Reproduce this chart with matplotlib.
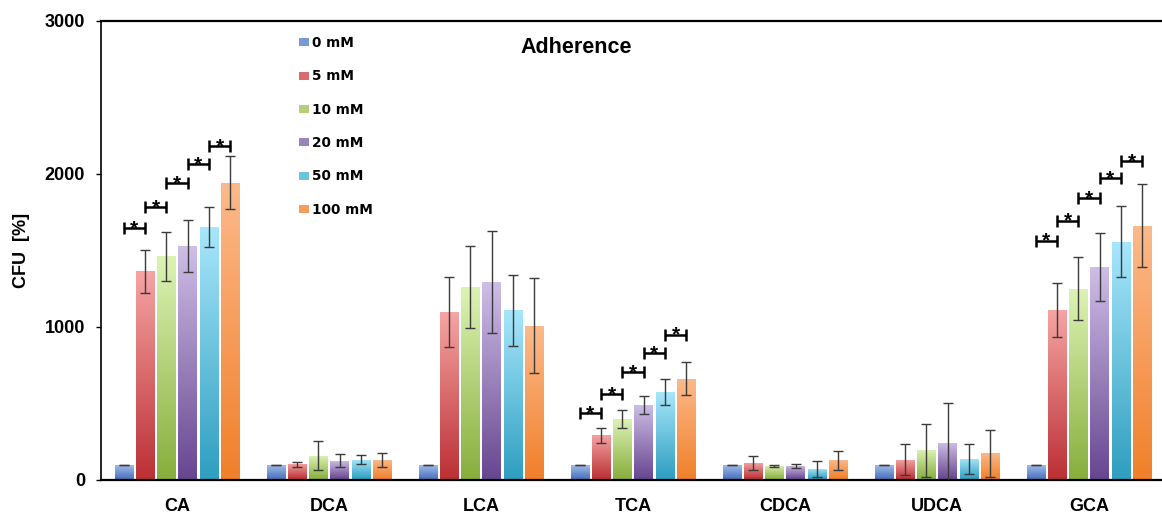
import numpy as np
import matplotlib
matplotlib.use("Agg")
import matplotlib.pyplot as plt
from matplotlib.colors import LinearSegmentedColormap, to_rgb
from matplotlib.patches import Patch

plt.rcParams["font.family"] = ["Liberation Sans", "DejaVu Sans"]

# ---- data -------------------------------------------------------------
groups = ["CA", "DCA", "LCA", "TCA", "CDCA", "UDCA", "GCA"]
concentrations = ["0 mM", "5 mM", "10 mM", "20 mM", "50 mM", "100 mM"]

cfu_0mM = [95, 95, 95, 95, 95, 95, 95]
cfu_5mM = [1360, 100, 1095, 290, 106, 129, 1108]
cfu_10mM = [1460, 155, 1258, 395, 88, 192, 1248]
cfu_20mM = [1525, 122, 1290, 487, 88, 240, 1386]
cfu_50mM = [1650, 130, 1105, 569, 68, 134, 1553]
cfu_100mM = [1940, 125, 1006, 660, 125, 171, 1660]

err_0mM = [0, 0, 0, 0, 0, 0, 0]
err_5mM = [140, 17, 228, 49, 46, 100, 175]
err_10mM = [160, 95, 265, 58, 9, 173, 205]
err_20mM = [170, 42, 333, 60, 14, 261, 222]
err_50mM = [128, 30, 230, 85, 50, 96, 232]
err_100mM = [175, 45, 313, 105, 63, 153, 270]

series = [cfu_0mM, cfu_5mM, cfu_10mM, cfu_20mM, cfu_50mM, cfu_100mM]
errors = [err_0mM, err_5mM, err_10mM, err_20mM, err_50mM, err_100mM]

# significance brackets between neighbouring concentrations (group -> bracket heights)
sig_groups = ["CA", "TCA", "GCA"]
sig_levels = {
    "CA": [1642, 1779, 1938, 2062, 2177],
    "TCA": [432, 558, 703, 827, 947],
    "GCA": [1562, 1692, 1838, 1968, 2079],
}

# ---- style ------------------------------------------------------------
# (top, bottom) colours of each bar's vertical gradient
gradients = [
    ("#a5c0f0", "#4a72b8"),
    ("#f6a5a5", "#bb3034"),
    ("#ddf3b6", "#88ae3c"),
    ("#cfbfe7", "#674690"),
    ("#a8e7fb", "#2f9ec0"),
    ("#fcba8c", "#f0802a"),
]
pitch = 0.14
bar_w = 0.122

fig = plt.figure(figsize=(11.62, 5.13), dpi=100)
ax = fig.add_axes([101 / 1162, 33.5 / 513, 1064 / 1162, 459 / 513])

x = np.arange(len(groups))
grad = np.linspace(0, 1, 256).reshape(-1, 1)

for j, (vals, errs) in enumerate(zip(series, errors)):
    xpos = x + (j - 2.5) * pitch
    top, bottom = gradients[j]
    cmap = LinearSegmentedColormap.from_list(f"g{j}", [bottom, top])
    bars = ax.bar(xpos, vals, width=bar_w, facecolor="none", linewidth=0, zorder=2)
    for b in bars:
        x0, w, h = b.get_x(), b.get_width(), b.get_height()
        im = ax.imshow(grad, extent=(x0, x0 + w, 0, h), origin="lower",
                       cmap=cmap, aspect="auto", interpolation="bilinear", zorder=2)
        im.set_clip_path(b)
    ax.errorbar(xpos, vals, yerr=errs, fmt="none", ecolor="#3a3a3a",
                elinewidth=1.0, capsize=3.6, capthick=1.0, zorder=3)

# significance brackets with asterisks
for g in sig_groups:
    gi = groups.index(g)
    for k, lvl in enumerate(sig_levels[g]):
        xa = gi + (k - 2.5) * pitch
        xb = gi + (k + 1 - 2.5) * pitch
        ax.plot([xa, xb], [lvl, lvl], color="black", lw=1.8, marker="|",
                markersize=8, markeredgewidth=1.8, zorder=4, solid_capstyle="butt")
        ax.annotate("*", xy=((xa + xb) / 2, lvl), xytext=(0, -4.5),
                    textcoords="offset points", ha="center", va="baseline",
                    fontsize=15, fontweight="bold", zorder=4)

ax.set_xlim(-0.5, len(groups) - 0.5)
ax.set_ylim(0, 3000)
ax.set_yticks([0, 1000, 2000, 3000])
ax.set_xticks(x)
ax.set_xticklabels(groups, fontsize=13, fontweight="bold")
for lab in ax.get_yticklabels():
    lab.set_fontsize(13)
    lab.set_fontweight("bold")
ax.tick_params(axis="x", length=0, pad=13)
ax.tick_params(axis="y", direction="out", length=3.6, width=1.0, pad=8)

for side in ("top", "bottom"):
    ax.spines[side].set_linewidth(1.6)
ax.spines["left"].set_linewidth(1.2)
ax.spines["right"].set_visible(False)

ax.set_ylabel("CFU  [%]", fontsize=13, fontweight="bold")
ax.yaxis.set_label_coords(-0.067, 0.5)

ax.text(0.447, 0.942, "Adherence", transform=ax.transAxes, ha="center",
        va="center", fontsize=15.5, fontweight="bold")

handles = []
for (top, bottom), lab in zip(gradients, concentrations):
    mid = tuple((np.array(to_rgb(top)) + np.array(to_rgb(bottom))) / 2)
    handles.append(Patch(facecolor=mid, edgecolor="none", label=lab))
ax.legend(handles=handles, loc="upper left", bbox_to_anchor=(0.186, 0.966),
          frameon=False, borderpad=0, borderaxespad=0, handlelength=0.75,
          handleheight=0.55, handletextpad=0.2, labelspacing=1.42,
          prop={"family": "DejaVu Sans", "weight": "bold", "size": 9.8})

fig.savefig("out.png", dpi=100)
